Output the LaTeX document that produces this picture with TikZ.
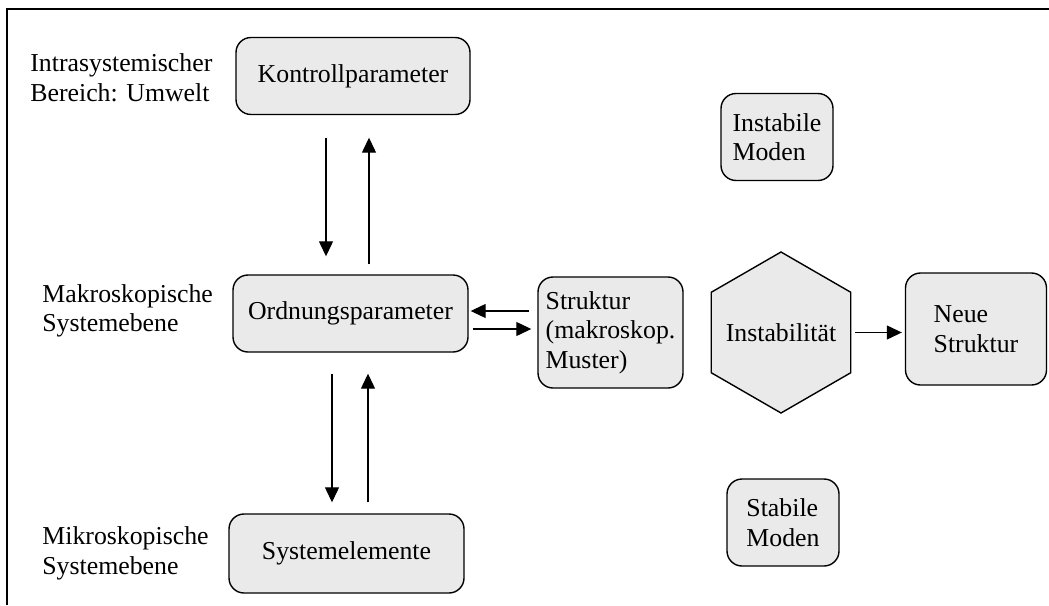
\documentclass[tikz,border=0pt]{standalone}
\usepackage{fontspec}
\setmainfont{Liberation Serif}
\usetikzlibrary{arrows.meta,shapes.geometric}
\definecolor{boxgray}{RGB}{234,234,234}
\begin{document}
\begin{tikzpicture}[x=0.5pt, y=0.5pt,
  font=\fontsize{12.9}{14.8}\selectfont,
  box/.style={draw, rounded corners=7.5pt, fill=boxgray, line width=0.7pt, align=left, inner sep=0pt},
  lbl/.style={anchor=west, align=left, inner sep=0pt},
  arr/.style={-{Triangle[length=7.5pt, width=7pt]}, line width=0.6pt}]
  \useasboundingbox (0,0) rectangle (1049,-605);
  \draw[line width=1pt] (7,-605) -- (7,-9) -- (1049,-9);

  \node (kontroll) [box, minimum width=117pt, minimum height=38.5pt] at (353,-76)
                   {Kontrollparameter};
  \node (ordnung)  [box, minimum width=117.5pt, minimum height=38.5pt] at (350.5,-313.5)
                   {Ordnungsparameter};
  \node (system)   [box, minimum width=117.5pt, minimum height=39.5pt] at (346.5,-553.5)
                   {Systemelemente};
  \node (struktur) [box, minimum width=72.5pt, minimum height=55.5pt] at (610.5,-332.5)
                   {Struktur\\(makroskop.\\Muster)};
  \node (instab)   [draw, regular polygon, regular polygon sides=6, shape border rotate=30,
                   fill=boxgray, line width=0.7pt, inner sep=-6pt, minimum size=80.5pt]
                   at (781,-332.5) {Instabilität};
  \node (neue)     [box, minimum width=70.5pt, minimum height=56pt] at (976,-329)
                   {Neue\\Struktur};
  \node (instmoden) [box, minimum width=56pt, minimum height=43.5pt] at (777,-137)
                   {Instabile\\Moden};
  \node (stabmoden) [box, minimum width=56pt, minimum height=43.5pt] at (783,-522.5)
                   {Stabile\\Moden};

  \node (umwelt) [lbl] at (30,-77.5) {Intrasystemischer\\Bereich: Umwelt};
  \node (makro)  [lbl] at (42,-311) {Makroskopische\\Systemebene};
  \node (mikro)  [lbl] at (42,-553.5) {Mikroskopische\\Systemebene};

  \draw[arr, shorten <=11.25pt, shorten >=9pt]
    ([xshift=-13.5pt]kontroll.south) -- ([xshift=-13.5pt]kontroll.south |- ordnung.north);
  \draw[arr, shorten <=5pt, shorten >=11.25pt]
    ([xshift=8pt]kontroll.south |- ordnung.north) -- ([xshift=8pt]kontroll.south);
  \draw[arr, shorten <=10.5pt, shorten >=5.5pt]
    ([xshift=-9.25pt]ordnung.south) -- ([xshift=-9.25pt]ordnung.south |- system.north);
  \draw[arr, shorten <=5.5pt, shorten >=10.5pt]
    ([xshift=8.75pt]ordnung.south |- system.north) -- ([xshift=8.75pt]ordnung.south);
  \draw[arr, shorten <=4pt, shorten >=1pt]
    ([yshift=10.75pt]struktur.west) -- ([yshift=10.75pt]struktur.west -| ordnung.east);
  \draw[arr, shorten <=2pt, shorten >=3pt]
    ([yshift=1.75pt]struktur.west -| ordnung.east) -- ([yshift=1.75pt]struktur.west);
  \draw[arr, shorten <=2pt, shorten >=1.5pt]
    (instab.east) -- (instab.east -| neue.west);
\end{tikzpicture}
\end{document}
